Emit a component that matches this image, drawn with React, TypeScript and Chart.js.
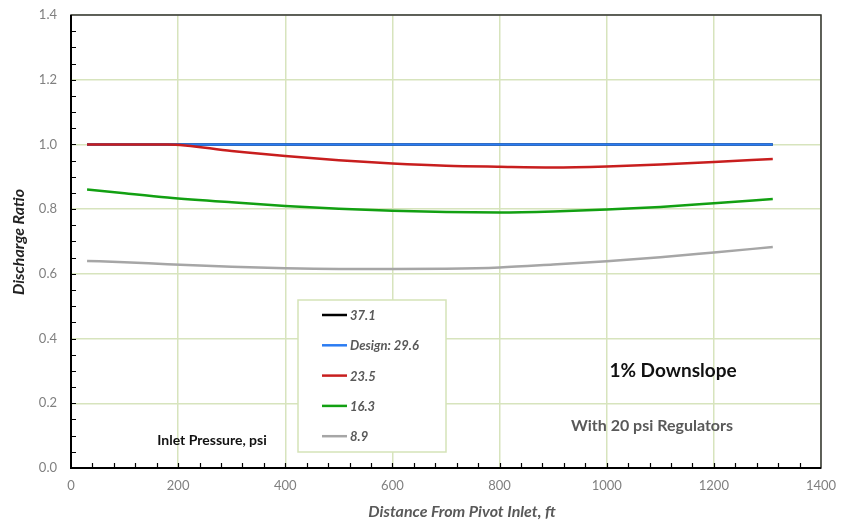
import React, { useEffect, useRef } from "react";
import { Chart, registerables } from "chart.js";

Chart.register(...registerables);

const distances = [30, 100, 180, 300, 400, 500, 600, 700, 800, 900, 1000, 1100, 1200, 1310];
const p37 = [1.0, 1.0, 1.0, 1.0, 1.0, 1.0, 1.0, 1.0, 1.0, 1.0, 1.0, 1.0, 1.0, 1.0];
const p29 = [1.0, 1.0, 1.0, 1.0, 1.0, 1.0, 1.0, 1.0, 1.0, 1.0, 1.0, 1.0, 1.0, 1.0];
const p23 = [1.0, 1.0, 1.0, 0.98, 0.964, 0.951, 0.941, 0.934, 0.931, 0.929, 0.932, 0.938, 0.946, 0.955];
const p16 = [0.861, 0.849, 0.836, 0.821, 0.81, 0.801, 0.795, 0.791, 0.79, 0.793, 0.799, 0.807, 0.818, 0.831];
const p8 = [0.64, 0.636, 0.63, 0.622, 0.617, 0.615, 0.615, 0.616, 0.62, 0.629, 0.639, 0.651, 0.666, 0.683];

const seriesLabels = ["37.1", "Design: 29.6", "23.5", "16.3", "8.9"];
const seriesColors = ["#000000", "#2b7cf2", "#c81e1e", "#12a012", "#a6a6a6"];
const seriesValues = [p37, p29, p23, p16, p8];

const xTicks = [0, 200, 400, 600, 800, 1000, 1200, 1400];
const yTicks = [0, 0.2, 0.4, 0.6, 0.8, 1.0, 1.2, 1.4];

const FONT = "Lato, 'Open Sans', sans-serif";

const overlayPlugin = {
  id: "overlay",
  afterDraw(chart: any) {
    const { ctx, chartArea, scales } = chart;
    const xs = scales.x;
    const ys = scales.y;
    ctx.save();
    // frame
    ctx.strokeStyle = "#333";
    ctx.lineWidth = 1.5;
    ctx.strokeRect(chartArea.left, chartArea.top, chartArea.right - chartArea.left, chartArea.bottom - chartArea.top);
    // inner minor ticks
    ctx.strokeStyle = "#000";
    ctx.lineWidth = 1.2;
    ctx.beginPath();
    for (let v = 0.05; v < 1.4; v += 0.05) {
      const y = Math.round(ys.getPixelForValue(v)) + 0.5;
      ctx.moveTo(chartArea.left, y);
      ctx.lineTo(chartArea.left + 5, y);
    }
    for (let v = 40; v < 1400; v += 40) {
      const x = Math.round(xs.getPixelForValue(v)) + 0.5;
      ctx.moveTo(x, chartArea.bottom);
      ctx.lineTo(x, chartArea.bottom - 5);
    }
    ctx.stroke();
    // axis lines bold
    ctx.lineWidth = 2;
    ctx.beginPath();
    ctx.moveTo(chartArea.left, chartArea.top);
    ctx.lineTo(chartArea.left, chartArea.bottom);
    ctx.lineTo(chartArea.right, chartArea.bottom);
    ctx.stroke();

    // axis titles
    ctx.textBaseline = "middle";
    ctx.textAlign = "center";
    ctx.fillStyle = "#595959";
    ctx.font = `italic bold 16px ${FONT}`;
    ctx.fillText("Distance From Pivot Inlet, ft", 462, 512);
    ctx.save();
    ctx.translate(19, 242);
    ctx.rotate(-Math.PI / 2);
    ctx.fillStyle = "#222";
    ctx.fillText("Discharge Ratio", 0, 0);
    ctx.restore();

    // legend box
    const bx = 298, by = 300, bw = 148, bh = 152;
    ctx.fillStyle = "#ffffff";
    ctx.fillRect(bx, by, bw, bh);
    ctx.strokeStyle = "#d5e3b8";
    ctx.lineWidth = 1.5;
    ctx.strokeRect(bx, by, bw, bh);
    ctx.font = `italic bold 13px ${FONT}`;
    ctx.textBaseline = "middle";
    ctx.textAlign = "left";
    for (let i = 0; i < seriesLabels.length; i++) {
      const y = 315 + i * 30.3;
      ctx.strokeStyle = seriesColors[i];
      ctx.lineWidth = 2.5;
      ctx.beginPath();
      ctx.moveTo(322, y);
      ctx.lineTo(347, y);
      ctx.stroke();
      ctx.fillStyle = "#595959";
      ctx.fillText(seriesLabels[i], 350, y + 1);
    }

    // annotations
    ctx.textAlign = "center";
    ctx.fillStyle = "#111";
    ctx.font = `bold 19px ${FONT}`;
    ctx.fillText("1% Downslope", 673, 371);
    ctx.fillStyle = "#595959";
    ctx.font = `bold 16px ${FONT}`;
    ctx.fillText("With 20 psi Regulators", 652, 426);
    ctx.fillStyle = "#111";
    ctx.font = `bold 14px ${FONT}`;
    ctx.fillText("Inlet Pressure, psi", 212, 440);
    ctx.restore();
  },
};

export default function App() {
  const ref = useRef<HTMLCanvasElement | null>(null);
  useEffect(() => {
    if (!ref.current) return;
    const datasets = seriesLabels.map((label, i) => ({
      label,
      data: distances.map((d, j) => ({ x: d, y: seriesValues[i][j] })),
      borderColor: seriesColors[i],
      backgroundColor: seriesColors[i],
      borderWidth: 2.5,
      pointRadius: 0,
      cubicInterpolationMode: "monotone" as const,
      fill: false,
      order: 10 - i,
    }));
    const chart = new Chart(ref.current, {
      type: "line",
      data: { datasets },
      options: {
        animation: false,
        responsive: false,
        maintainAspectRatio: false,
        layout: { padding: { left: 0, top: 15, right: 20, bottom: 0 } },
        plugins: { legend: { display: false }, tooltip: { enabled: false } },
        scales: {
          x: {
            type: "linear",
            min: 0,
            max: 1400,
            afterBuildTicks: (s: any) => {
              s.ticks = xTicks.map((v) => ({ value: v }));
            },
            afterFit: (s: any) => {
              s.height = 57;
              s.paddingLeft = 0;
              s.paddingRight = 0;
            },
            grid: { color: "#d7e4bd", lineWidth: 1.5, drawTicks: false },
            border: { display: false },
            ticks: {
              color: "#808080",
              font: { family: FONT, size: 13 },
              padding: 10,
              maxRotation: 0,
              callback: (v: any) => String(v),
            },
          },
          y: {
            type: "linear",
            min: 0,
            max: 1.4,
            afterBuildTicks: (s: any) => {
              s.ticks = yTicks.map((v) => ({ value: v }));
            },
            afterFit: (s: any) => {
              s.width = 71;
              s.paddingTop = 0;
              s.paddingBottom = 0;
            },
            grid: { color: "#d7e4bd", lineWidth: 1.5, drawTicks: false },
            border: { display: false },
            ticks: {
              color: "#808080",
              font: { family: FONT, size: 13 },
              padding: 14,
              callback: (v: any) => Number(v).toFixed(1),
            },
          },
        },
      },
      plugins: [overlayPlugin],
    });
    return () => chart.destroy();
  }, []);
  return (
    <div style={{ position: "absolute", left: 0, top: 0, width: 841, height: 525, background: "#fff" }}>
      <canvas ref={ref} width={841} height={525} style={{ width: 841, height: 525, display: "block" }} />
    </div>
  );
}
